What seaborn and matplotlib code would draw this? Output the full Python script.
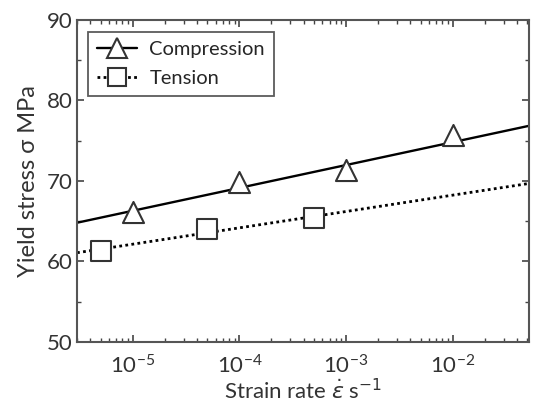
import numpy as np
import pandas as pd
import matplotlib
matplotlib.use("Agg")
import matplotlib.pyplot as plt
import seaborn as sns
from matplotlib.lines import Line2D
from matplotlib.ticker import LogLocator, MultipleLocator

# data
comp_rate = [1e-5, 1e-4, 1e-3, 1e-2]
comp_stress = [66.2, 69.9, 71.4, 75.7]
tens_rate = [5e-6, 5e-5, 5e-4]
tens_stress = [61.3, 64.0, 65.4]

# fitted lines: stress = a + b*log10(rate)
comp_fit = (80.5, 2.84)
tens_fit = (72.3, 2.03)

x_range = [3e-6, 5.2e-2]

sns.set_style("ticks")
plt.rcParams['font.family'] = ['Lato', 'DejaVu Sans']
plt.rcParams['mathtext.fontset'] = 'dejavusans'

fig = plt.figure(figsize=(5.33, 4.03), dpi=100)
ax = fig.add_axes([0.1445, 0.1514, 0.848, 0.799])

xx = np.array(x_range)
fit_df = pd.DataFrame({
    'rate': np.concatenate([xx, xx]),
    'stress': np.concatenate([comp_fit[0] + comp_fit[1] * np.log10(xx),
                              tens_fit[0] + tens_fit[1] * np.log10(xx)]),
    'kind': ['Compression'] * 2 + ['Tension'] * 2,
})
sns.lineplot(data=fit_df[fit_df.kind == 'Compression'], x='rate', y='stress',
             color='black', lw=1.7, ax=ax, legend=False)
sns.lineplot(data=fit_df[fit_df.kind == 'Tension'], x='rate', y='stress',
             color='black', lw=2.0, ls=(0, (1, 1.2)), ax=ax, legend=False)

ax.set_xscale('log')
sns.scatterplot(x=comp_rate, y=comp_stress, marker='^', s=230, color='white',
                edgecolor='#333333', linewidth=1.5, ax=ax, zorder=5)
sns.scatterplot(x=tens_rate, y=tens_stress, marker='s', s=190, color='white',
                edgecolor='#333333', linewidth=1.5, ax=ax, zorder=5)

ax.set_xlim(x_range)
ax.set_ylim(50, 90)
ax.set_yticks([50, 60, 70, 80, 90])
ax.yaxis.set_minor_locator(MultipleLocator(5))
ax.xaxis.set_minor_locator(LogLocator(base=10, subs=np.arange(2, 10), numticks=20))
ax.set_xticks([1e-5, 1e-4, 1e-3, 1e-2])

ax.tick_params(which='both', direction='in', top=True, right=True,
               color='#444444', labelsize=16, labelcolor='#333333')
ax.tick_params(which='major', length=5, width=1.2)
ax.tick_params(which='minor', length=3, width=1.0)
ax.tick_params(axis='x', pad=9)
ax.tick_params(axis='y', pad=3)
for s in ax.spines.values():
    s.set_color('#555555')
    s.set_linewidth(1.5)

ax.set_ylabel('Yield stress σ MPa', fontsize=17, color='#333333', labelpad=6)
ax.set_xlabel(r'Strain rate $\dot{\varepsilon}$ s$^{\mathsf{-1}}$', fontsize=16,
              color='#333333', labelpad=0)

handles = [
    Line2D([], [], color='black', lw=1.7, marker='^', markersize=14,
           markerfacecolor='white', markeredgecolor='#333333', markeredgewidth=1.5),
    Line2D([], [], color='black', lw=2.0, ls=(0, (1, 1.2)), marker='s', markersize=13,
           markerfacecolor='white', markeredgecolor='#333333', markeredgewidth=1.5),
]
leg = ax.legend(handles, ['Compression', 'Tension'], loc='upper left',
                bbox_to_anchor=(0.024, 0.962), fontsize=14.5, frameon=True,
                fancybox=False, edgecolor='#333333', handlelength=2.0,
                handletextpad=0.6, borderpad=0.45, labelspacing=0.55,
                borderaxespad=0)
leg.get_frame().set_linewidth(1.3)

fig.savefig('out.png', dpi=100)
